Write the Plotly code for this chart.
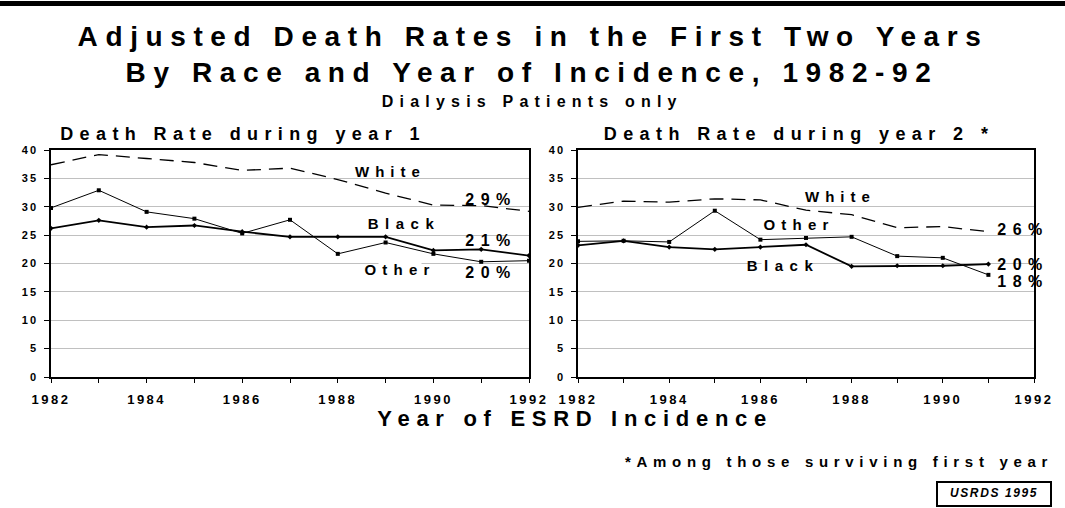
import plotly.graph_objects as go

# ---------------- data ----------------
years_y1 = [1982, 1983, 1984, 1985, 1986, 1987, 1988, 1989, 1990, 1991, 1992]
white_y1 = [37.4, 39.2, 38.5, 37.8, 36.4, 36.8, 34.8, 32.4, 30.3, 30.2, 29.2]
black_y1 = [26.2, 27.6, 26.4, 26.7, 25.6, 24.7, 24.7, 24.7, 22.3, 22.5, 21.4]
other_y1 = [29.8, 32.9, 29.1, 27.9, 25.3, 27.7, 21.7, 23.7, 21.7, 20.3, 20.5]

years_y2 = [1982, 1983, 1984, 1985, 1986, 1987, 1988, 1989, 1990, 1991]
white_y2 = [29.9, 31.0, 30.8, 31.4, 31.2, 29.4, 28.6, 26.3, 26.5, 25.6]
other_y2 = [23.9, 24.0, 23.8, 29.3, 24.2, 24.5, 24.7, 21.3, 21.0, 18.0]
black_y2 = [23.2, 24.0, 22.9, 22.5, 22.9, 23.3, 19.5, 19.6, 19.6, 19.9]

tick_years = list(range(1982, 1993))
tick_text = [str(y) if y % 2 == 0 else "" for y in tick_years]
y_ticks = [0, 5, 10, 15, 20, 25, 30, 35, 40]

title_1 = "Adjusted Death Rates in the First Two Years"
title_2 = "By Race and Year of Incidence, 1982-92"
subtitle = "Dialysis Patients only"
panel_1 = "Death Rate during year 1"
panel_2 = "Death Rate during year 2 *"
x_title = "Year of ESRD Incidence"
footnote = "*Among those surviving first year"
source = "USRDS 1995"

W, H = 1065, 508
FONT = "Liberation Sans, Arial, sans-serif"


def px(x):
    return x / W


def py(y):
    return 1 - y / H


fig = go.Figure()

def add_panel(xs, white, black, other, xa, ya):
    fig.add_trace(go.Scatter(x=xs, y=white, mode="lines", xaxis=xa, yaxis=ya,
                             line=dict(color="black", width=1.3, dash="14px,8px"),
                             showlegend=False, name="White"))
    fig.add_trace(go.Scatter(x=xs, y=other, mode="lines+markers", xaxis=xa, yaxis=ya,
                             line=dict(color="black", width=1),
                             marker=dict(symbol="square", size=4, color="black"),
                             showlegend=False, name="Other"))
    fig.add_trace(go.Scatter(x=xs, y=black, mode="lines+markers", xaxis=xa, yaxis=ya,
                             line=dict(color="black", width=1.8),
                             marker=dict(symbol="diamond", size=4, color="black"),
                             showlegend=False, name="Black"))

add_panel(years_y1, white_y1, black_y1, other_y1, "x", "y")
add_panel(years_y2, white_y2, black_y2, other_y2, "x2", "y2")

xax = dict(range=[1982, 1992], tickmode="array", tickvals=tick_years, ticktext=tick_text,
           ticks="outside", ticklen=4, tickwidth=1, tickcolor="black",
           showgrid=False, zeroline=False, showline=True, linecolor="black", linewidth=1.5,
           mirror=True, ticklabelstandoff=6, automargin=False,
           tickfont=dict(family=FONT, size=13, color="black", weight="bold"))
yax = dict(range=[0, 40], tickmode="array", tickvals=y_ticks,
           ticks="outside", ticklen=5, tickwidth=1, tickcolor="black",
           showgrid=True, gridcolor="#c0c0c0", gridwidth=1, zeroline=False,
           showline=True, linecolor="black", linewidth=1.5, mirror=True,
           ticklabelstandoff=4, automargin=False,
           tickfont=dict(family=FONT, size=11, color="black", weight="bold"))

yd = [py(377), py(150)]
fig.update_layout(
    template="none",
    width=W, height=H, margin=dict(l=0, r=0, t=0, b=0, pad=0, autoexpand=False),
    paper_bgcolor="white", plot_bgcolor="white",
    xaxis=dict(xax, domain=[px(51), px(529)], anchor="y"),
    yaxis=dict(yax, domain=yd, anchor="x"),
    xaxis2=dict(xax, domain=[px(578), px(1034)], anchor="y2"),
    yaxis2=dict(yax, domain=yd, anchor="x2"),
)

def ann(text, x, y, size, xref="paper", yref="paper", bg=None, italic=False):
    d = dict(text=text, x=x, y=y, xref=xref, yref=yref, xanchor="center", yanchor="middle",
             showarrow=False,
             font=dict(family=FONT, size=size, color="black", weight="bold",
                       style="italic" if italic else "normal"))
    if bg:
        d["bgcolor"] = bg
        d["borderpad"] = 1
    fig.add_annotation(**d)

# headings (x = centre of the spaced text)
ann(title_1, px(533), py(37), 28)
ann(title_2, px(532), py(73), 28)
ann(subtitle, px(532), py(102), 16)
ann(panel_1, px(243), py(134), 18)
ann(panel_2, px(799), py(134), 18)
ann(x_title, px(575), py(418), 22)
ann(footnote, px(839), py(461), 15)
ann(source, px(994), py(493), 12, italic=True)

# series labels (data coordinates)
ann("White", 1989.1, 36.2, 15, xref="x", yref="y")
ann("Black", 1989.4, 27.0, 15, xref="x", yref="y")
ann("Other", 1989.3, 18.9, 15, xref="x", yref="y", bg="white")
ann("29%", 1991.2, 31.2, 16, xref="x", yref="y")
ann("21%", 1991.2, 24.1, 16, xref="x", yref="y")
ann("20%", 1991.2, 18.4, 16, xref="x", yref="y")

ann("White", 1987.75, 31.8, 15, xref="x2", yref="y2")
ann("Other", 1986.85, 26.8, 15, xref="x2", yref="y2")
ann("Black", 1986.5, 19.6, 15, xref="x2", yref="y2", bg="white")
ann("26%", 1991.75, 26.0, 16, xref="x2", yref="y2")
ann("20%", 1991.75, 19.9, 16, xref="x2", yref="y2")
ann("18%", 1991.75, 16.8, 16, xref="x2", yref="y2")

# top bar and source box
fig.add_shape(type="rect", xref="paper", yref="paper", x0=0, x1=1, y0=py(6), y1=py(1),
              fillcolor="black", line=dict(width=0))
fig.add_shape(type="rect", xref="paper", yref="paper", x0=px(937), x1=px(1051),
              y0=py(506), y1=py(482), fillcolor="rgba(0,0,0,0)",
              line=dict(color="black", width=2))

post = """
document.body.style.margin='0';
document.body.style.overflow='hidden';
var gd = document.getElementById('{plot_id}');
var SP = {
 'Adjusted Death Rates in the First Two Years': 7.6,
 'By Race and Year of Incidence, 1982-92': 7.6,
 'Dialysis Patients only': 6.2,
 'Death Rate during year 1': 6.4,
 'Death Rate during year 2 *': 6.4,
 'Year of ESRD Incidence': 6.7,
 '*Among those surviving first year': 5.7,
 'USRDS 1995': 1.6,
 'White': 6, 'Black': 6.5, 'Other': 6.2,
 '29%': 6.5, '21%': 6.5, '20%': 6.5, '26%': 6.5, '18%': 6.5
};
gd.querySelectorAll('.annotation-text').forEach(function(t){
  var k = t.textContent;
  if (SP[k] !== undefined) { t.style.letterSpacing = SP[k] + 'px'; }
});
gd.querySelectorAll('.xaxislayer-above text').forEach(function(t){ t.style.letterSpacing = '2.5px'; });
gd.querySelectorAll('.yaxislayer-above text').forEach(function(t){ t.style.letterSpacing = '2px'; });
"""

fig.write_html("out.html", post_script=post, config={"displayModeBar": False})
